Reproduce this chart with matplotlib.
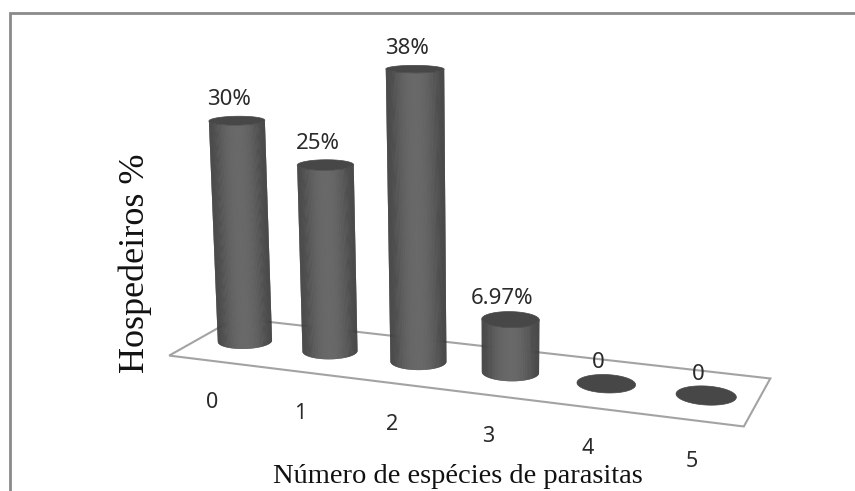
import numpy as np
import matplotlib
matplotlib.use("Agg")
import matplotlib.pyplot as plt
from matplotlib.patches import Polygon

categories = ["0", "1", "2", "3", "4", "5"]
values = [30, 25, 38, 6.97, 0, 0]
value_labels = ["30%", "25%", "38%", "6.97%", "0", "0"]

# camera matrix: (category, depth, value, 1) -> homogeneous pixel position
camera = np.array([
    [78.7, 1059.6 * 0.0833, -0.5115, 245.0],
    [3.3, -146.0 * 0.0833, -7.47, 341.0],
    [-0.01915, 0.0833, -0.001023, 1.0],
])

RX = 0.29
RD = 0.18
FLOOR_D = 0.47


def project(cat, depth, val):
    cat = np.asarray(cat, dtype=float)
    depth = np.asarray(depth, dtype=float)
    val = np.asarray(val, dtype=float)
    pts = np.broadcast_arrays(cat, depth, val, np.ones_like(cat + depth + val))
    pts = np.stack(pts, axis=-1)
    h = pts @ camera.T
    return h[..., 0] / h[..., 2], h[..., 1] / h[..., 2]


def ring(cat, val, t):
    return project(cat + RX * np.cos(t), RD * np.sin(t), val * np.ones_like(t))


def side_color(f):
    # f is -1 at the left silhouette, 0 in the middle, 1 at the right
    g = 1 - np.abs(f) ** 2.2
    return tuple(np.array([0.22, 0.22, 0.22]) + g * 0.19)


fig = plt.figure(figsize=(8.55, 4.91), dpi=100)
ax = fig.add_axes([0, 0, 1, 1])
ax.set_xlim(0, 855)
ax.set_ylim(491, 0)
ax.axis("off")

# outer frame, open on the right and at the bottom
ax.plot([10, 10, 855], [491, 13, 13], color="#8a8a8a", lw=2, solid_capstyle="butt", solid_joinstyle="miter")

# floor
fx, fy = project([-0.5, 5.5, 5.5, -0.5], [-FLOOR_D, -FLOOR_D, FLOOR_D, FLOOR_D], [0, 0, 0, 0])
ax.add_patch(Polygon(np.column_stack([fx, fy]), closed=True, fc="white", ec="#a3a3a3", lw=1.5))

t = np.linspace(np.pi / 2, 5 * np.pi / 2, 721)
for i, v in enumerate(values):
    bx, by = ring(i, 0, t)
    if v > 0:
        tx, ty = ring(i, v, t)
        # front arc of the wall runs from the left extreme to the right one
        a, b = np.argmin(bx), np.argmax(bx)
        mid = (bx[a] + bx[b]) / 2
        half = (bx[b] - bx[a]) / 2
        step = 3
        for k in range(a, b, step):
            end = min(k + 2 * step, b) + 1
            poly = np.column_stack([
                np.r_[bx[k:end], tx[k:end][::-1]],
                np.r_[by[k:end], ty[k:end][::-1]],
            ])
            f = (bx[k] + min(bx[k + step], bx[b]) if k + step <= b else bx[k] + bx[b]) / 2
            ax.add_patch(Polygon(poly, closed=True, fc=side_color((f - mid) / half), ec="none"))
    else:
        tx, ty = bx, by
    ax.fill(tx, ty, color="#474747", lw=0.5)

    cx, cy = project(i, 0, v)
    ax.text(cx - 8, cy - 21, value_labels[i], ha="center", va="center", family="Noto Sans", fontsize=16, color="#2a2a2a")

    lx, ly = project(i, -0.5, 0)
    ax.text(lx + 3, ly + 40, categories[i], ha="center", va="center", family="Noto Sans", fontsize=15.5, color="#2a2a2a")

ax.text(135, 263, "Hospedeiros %", rotation=90, ha="center", va="center", family="Liberation Serif", fontsize=26, color="#111111")
ax.text(458, 483, "Número de espécies de parasitas", ha="center", va="baseline", family="Liberation Serif", fontsize=20.5, color="#111111")

fig.savefig("out.png", dpi=100)
